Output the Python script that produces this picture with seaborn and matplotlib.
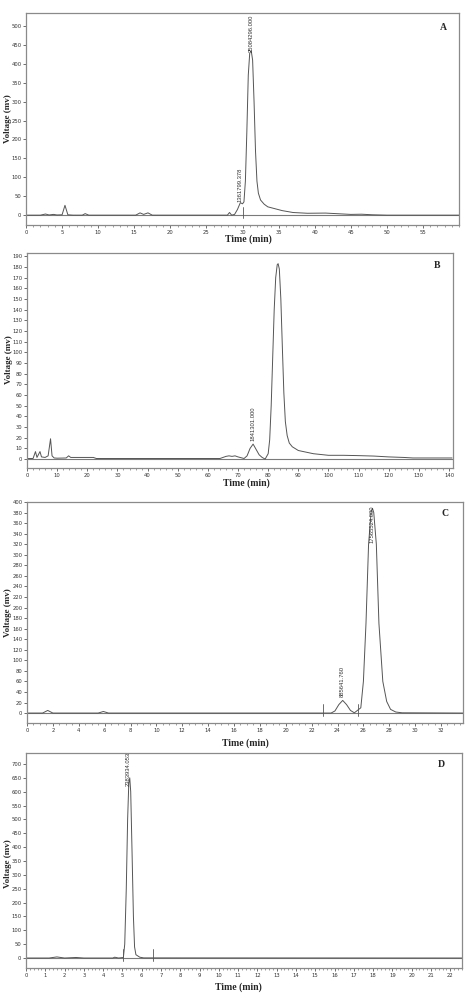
import numpy as np
import pandas as pd
import matplotlib
matplotlib.use("Agg")
import matplotlib.pyplot as plt
import seaborn as sns
from matplotlib.ticker import MultipleLocator

# ---------------- data ----------------
A_time = [0, 2.0, 2.7, 3.2, 3.8, 4.3, 5.0, 5.4, 5.8, 6.5, 7.8, 8.2, 8.7, 10, 15.2, 15.8, 16.3,
          16.9, 17.5, 20, 27.9, 28.2, 28.5, 28.9, 29.3, 29.7, 30.0, 30.2, 30.4, 30.6, 30.8,
          31.0, 31.2, 31.4, 31.6, 31.8, 32.0, 32.2, 32.5, 33.0, 33.5, 34.5, 35.5, 37.0, 39.0,
          41.5, 43.0, 45.0, 46.5, 48.0, 50.0, 60.0]
A_volt = [0, 0, 3, 0.5, 2, 0.5, 1, 26, 1, 0, 0, 4, 0, 0, 0, 6, 2, 6, 0, 0, 0, 7, 0, 2, 15,
          33, 30, 35, 90, 220, 370, 428, 435, 410, 300, 170, 90, 58, 40, 29, 22, 17, 12, 7, 5,
          5.5, 4, 2, 2.5, 1, 0, 0]
A_yticks = list(range(0, 501, 50))
A_xticks = list(range(0, 56, 5))
A_peaks = [(29.7, 36, "1361799.378"), (31.2, 430, "25084296.000")]
A_marks = [30.1]

B_time = [0, 2.0, 2.8, 3.3, 4.3, 4.8, 6.0, 7.0, 7.8, 8.3, 9.0, 10.0, 13.0, 13.8, 14.5, 22.0,
          23.0, 64.0, 66.0, 67.0, 68.0, 69.0, 70.0, 72.0, 73.0, 74.0, 75.0, 76.0, 77.0, 78.0,
          79.0, 80.0, 80.5, 81.0, 81.5, 82.0, 82.5, 83.0, 83.3, 83.7, 84.2, 84.7, 85.2, 85.7,
          86.3, 87.0, 88.0, 90.0, 95.0, 100.0, 105.0, 110.0, 115.0, 120.0, 125.0, 128.0, 141.0]
B_volt = [0.5, 0.5, 7, 1.5, 7, 2, 1.5, 3, 19, 3, 1, 0.8, 1.0, 3, 1.5, 1.5, 0.5, 0.5, 2.5, 3,
          2.5, 3, 2, 0.5, 3, 10, 14, 9, 4, 1.5, 0, 5, 18, 50, 95, 140, 170, 182, 183, 178, 150,
          105, 62, 35, 22, 15, 11.5, 8, 5, 3.5, 3.5, 3.2, 2.8, 2, 1.5, 1.0, 1.0]
B_yticks = list(range(0, 191, 10))
B_xticks = list(range(0, 141, 10))
B_peaks = [(75.0, 17, "1841301.000")]
B_marks = []

C_time = [0, 1.2, 1.6, 2.0, 5.5, 5.9, 6.3, 23.5, 23.8, 24.1, 24.4, 24.7, 25.0, 25.3, 25.8,
          26.0, 26.2, 26.4, 26.6, 26.7, 26.8, 27.0, 27.2, 27.5, 27.8, 28.1, 28.5, 29.0, 33.7]
C_volt = [0, 0, 5, 0, 0, 3, 0, 0, 4, 16, 24, 16, 5, 0.5, 10, 60, 170, 320, 382, 388, 380,
          320, 170, 60, 22, 7, 2, 0.5, 0]
C_yticks = list(range(0, 401, 20))
C_xticks = list(range(0, 33, 2))
C_peaks = [(24.4, 30, "885641.760"), (26.7, 322, "17565524.000")]
C_marks = [22.9, 25.6]

D_time = [0, 1.2, 1.6, 2.0, 2.6, 3.0, 4.5, 4.6, 4.8, 5.05, 5.12, 5.2, 5.27, 5.33, 5.38,
          5.43, 5.5, 5.57, 5.63, 5.7, 5.9, 6.1, 22.6]
D_volt = [0, 0, 4, 0, 2, 0, 0, 3, 0, 2, 50, 250, 500, 630, 650, 600, 380, 150, 40, 12, 3,
          0.5, 0]
D_yticks = list(range(0, 701, 50))
D_xticks = list(range(0, 23, 1))
D_peaks = [(5.31, 620, "2383934.053")]
D_marks = [5.05, 6.57]

W, H = 466.0, 996.0
panels = [
    dict(t=A_time, v=A_volt, yt=A_yticks, xt=A_xticks, pk=A_peaks, mk=A_marks,
         xlim=(0, 60), ylim=(-26, 534), minor=1, letter="A",
         rect=(0.0558, 0.7741, 0.9292, 0.2128), lpx=(0.963, 0.934), xl=(248, 239), yl=(8, 119)),
    dict(t=B_time, v=B_volt, yt=B_yticks, xt=B_xticks, pk=B_peaks, mk=B_marks,
         xlim=(0, 141.3), ylim=(-8.5, 193), minor=2, letter="B",
         rect=(0.058, 0.530, 0.914, 0.216), lpx=(0.962, 0.944), xl=(246, 483), yl=(9, 360)),
    dict(t=C_time, v=C_volt, yt=C_yticks, xt=C_xticks, pk=C_peaks, mk=C_marks,
         xlim=(0, 33.7), ylim=(-19, 400), minor=0.5, letter="C",
         rect=(0.058, 0.274, 0.9356, 0.222), lpx=(0.959, 0.946), xl=(245, 743), yl=(8, 613)),
    dict(t=D_time, v=D_volt, yt=D_yticks, xt=D_xticks, pk=D_peaks, mk=D_marks,
         xlim=(0, 22.6), ylim=(-36, 740), minor=0.2, letter="D",
         rect=(0.0558, 0.0281, 0.9352, 0.216), lpx=(0.952, 0.944), xl=(238, 987), yl=(8, 864)),
]

sns.set_style("ticks")
plt.rcParams["font.family"] = ["DejaVu Sans"]

fig = plt.figure(figsize=(4.66, 9.96), dpi=100)
line_col = "#555555"
spine_col = "#8a8a8a"

for p in panels:
    ax = fig.add_axes(p["rect"])
    df = pd.DataFrame({"Time": p["t"], "Voltage": p["v"]})
    sns.lineplot(data=df, x="Time", y="Voltage", ax=ax, color=line_col, linewidth=0.7,
                 estimator=None, sort=False)
    ax.axhline(0, color="#7a7a7a", linewidth=0.8, zorder=1)
    y0 = (0 - p["ylim"][0]) / (p["ylim"][1] - p["ylim"][0])
    for m in p["mk"]:
        ax.axvline(m, ymin=y0 - 0.015, ymax=y0 + 0.04, color=line_col, linewidth=0.6)
    for (x, y, txt) in p["pk"]:
        ax.text(x, y, txt, rotation=90, ha="center", va="bottom", fontsize=4.2,
                color="#333333", family="Liberation Sans")
    ax.set_xlim(*p["xlim"])
    ax.set_ylim(*p["ylim"])
    ax.set_xticks(p["xt"])
    ax.set_yticks(p["yt"])
    ax.xaxis.set_minor_locator(MultipleLocator(p["minor"]))
    ax.tick_params(axis="both", which="major", labelsize=3.8, length=2.5, width=0.5,
                   colors="#333333", pad=0.8)
    ax.tick_params(axis="x", which="minor", length=1.4, width=0.4, colors="#555555")
    for s in ax.spines.values():
        s.set_visible(True)
        s.set_color(spine_col)
        s.set_linewidth(0.9)
    ax.set_xlabel("")
    ax.set_ylabel("")
    fig.text(p["xl"][0] / W, 1 - p["xl"][1] / H, "Time (min)", fontsize=7,
             fontweight="bold", family="Liberation Serif", ha="center", va="center")
    fig.text(p["yl"][0] / W, 1 - p["yl"][1] / H, "Voltage (mv)", fontsize=6.5,
             fontweight="bold", family="Liberation Serif", ha="center", va="center",
             rotation=90)
    ax.text(p["lpx"][0], p["lpx"][1], p["letter"], transform=ax.transAxes, fontsize=7,
            fontweight="bold", family="Liberation Serif", ha="center", va="center")

fig.savefig("out.png", dpi=100)
